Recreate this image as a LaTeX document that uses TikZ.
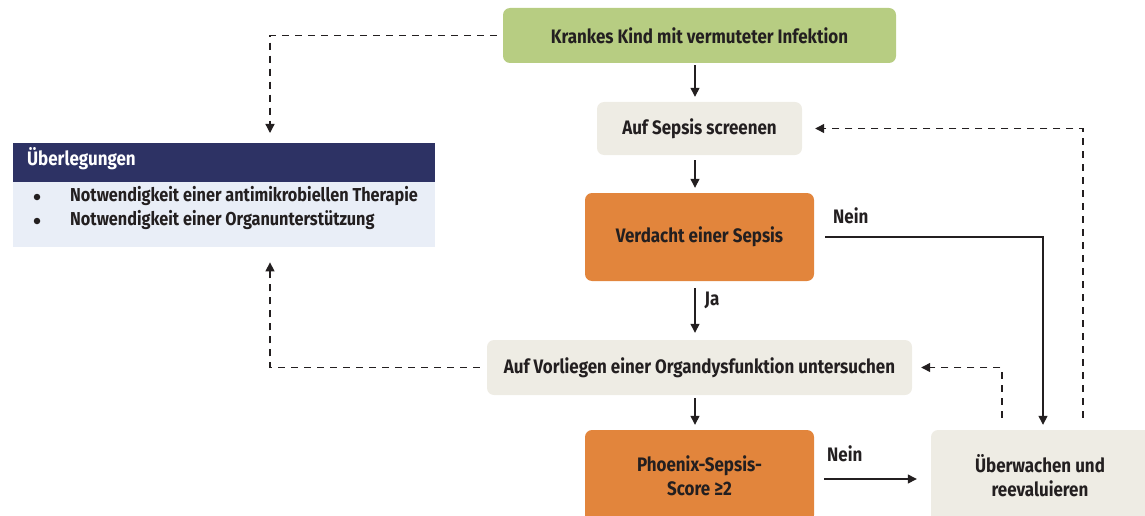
\documentclass[tikz,border=0pt]{standalone}
\usepackage{fontspec}
\setmainfont{Fira Sans}[FakeStretch=0.87]
\usetikzlibrary{arrows.meta,calc}
\definecolor{cgreen}{RGB}{183,205,130}
\definecolor{cbeige}{RGB}{238,236,228}
\definecolor{corange}{RGB}{226,133,60}
\definecolor{cnavy}{RGB}{45,50,100}
\definecolor{clight}{RGB}{233,238,247}
\definecolor{ctext}{RGB}{35,31,32}
\begin{document}
\begin{tikzpicture}[x=1pt,y=-1pt,
  every node/.style={font=\bfseries\fontsize{19.5}{24}\selectfont, text=ctext},
  box/.style={rounded corners=7pt, inner sep=0pt, align=center},
  arr/.style={line width=1.3pt, draw=ctext, -{Triangle[length=9pt,width=9pt]}},
  dsh/.style={arr, dashed, dash pattern=on 7pt off 6pt},
  lbl/.style={inner sep=0pt, anchor=base west},
  item/.style={inner sep=0pt, anchor=west, font=\bfseries\fontsize{18.7}{24}\selectfont},
  bul/.style={circle, fill=ctext, inner sep=0pt, minimum size=6.5pt}]
\useasboundingbox (0,0) rectangle (1145,516);
% boxes
\node[box, fill=cgreen, minimum width=393pt, minimum height=55pt] (start) at (699.5,35.5) {Krankes Kind mit vermuteter Infektion};
\node[box, fill=cbeige, minimum width=205pt, minimum height=53pt] (screen) at (699.5,128.5) {Auf Sepsis screenen};
\node[box, fill=corange, minimum width=229pt, minimum height=88pt] (verd) at (699.5,237) {Verdacht einer Sepsis};
\node[box, fill=cbeige, minimum width=425pt, minimum height=55pt] (organ) at (699.5,367.5) {Auf Vorliegen einer Organdysfunktion untersuchen};
\node[box, fill=corange, minimum width=229pt, minimum height=92pt] (phoe) at (699.5,476) {Phoenix-Sepsis-\\Score ≥2};
\node[box, fill=cbeige, minimum width=224pt, minimum height=92pt] (ueber) at (1043,476) {};
\node[inner sep=0pt, align=center] (uebertext) at (1040,476) {Überwachen und\\reevaluieren};
% Ueberlegungen
\node[inner sep=0pt, fill=cnavy, minimum width=422pt, minimum height=39pt, anchor=north west] (ueb) at (13,143) {};
\node[inner sep=0pt, anchor=west, text=white] (uebtitle) at (27,159) {Überlegungen};
\node[inner sep=0pt, fill=clight, minimum width=422pt, minimum height=65pt, anchor=north west] (uebbody) at (13,182) {};
\node[bul] (b1) at (37,197) {};
\node[item] (i1) at (70,196) {Notwendigkeit einer antimikrobiellen Therapie};
\node[bul] (b2) at (37,221) {};
\node[item] (i2) at (70,220) {Notwendigkeit einer Organunterstützung};
% solid arrows
\draw[arr] ([xshift=-4.5pt,yshift=-2pt]start.south) -- ([xshift=-4.5pt,yshift=5pt]screen.north);
\draw[arr] ([xshift=-4.5pt,yshift=-5pt]screen.south) -- ([xshift=-4.5pt,yshift=5pt]verd.north);
\draw[arr] ([xshift=-4.5pt,yshift=-7pt]verd.south) -- ([xshift=-4.5pt,yshift=7pt]organ.north) node[pos=0.27, right=9pt, inner sep=0pt] (ja) {Ja};
\draw[arr] ([xshift=-4.5pt,yshift=-3pt]organ.south) -- ([xshift=-4.5pt,yshift=5pt]phoe.north);
\coordinate (n1s) at ([xshift=11pt]verd.east);
\draw[arr] (n1s) -| ([yshift=5pt]ueber.north);
\node[lbl] (nein1) at (833,223) {Nein};
\draw[arr] ([xshift=10pt,yshift=-3pt]phoe.east) -- ([xshift=-14pt,yshift=-3pt]ueber.west);
\node[lbl] (nein2) at (827,461) {Nein};
% dashed arrows
\draw[dsh] ($(ueber.north)+(40,-12)$) |- ([xshift=13pt]screen.east);
\draw[dsh] ($(ueber.north)+(-41,-12)$) |- ([xshift=9pt]organ.east);
\draw[dsh] ([xshift=-6pt]start.west) -| ($(ueb.north west)+(257,-10)$);
\draw[dsh] ([xshift=-7pt]organ.west) -| ($(uebbody.south west)+(257,15)$);
\end{tikzpicture}
\end{document}
